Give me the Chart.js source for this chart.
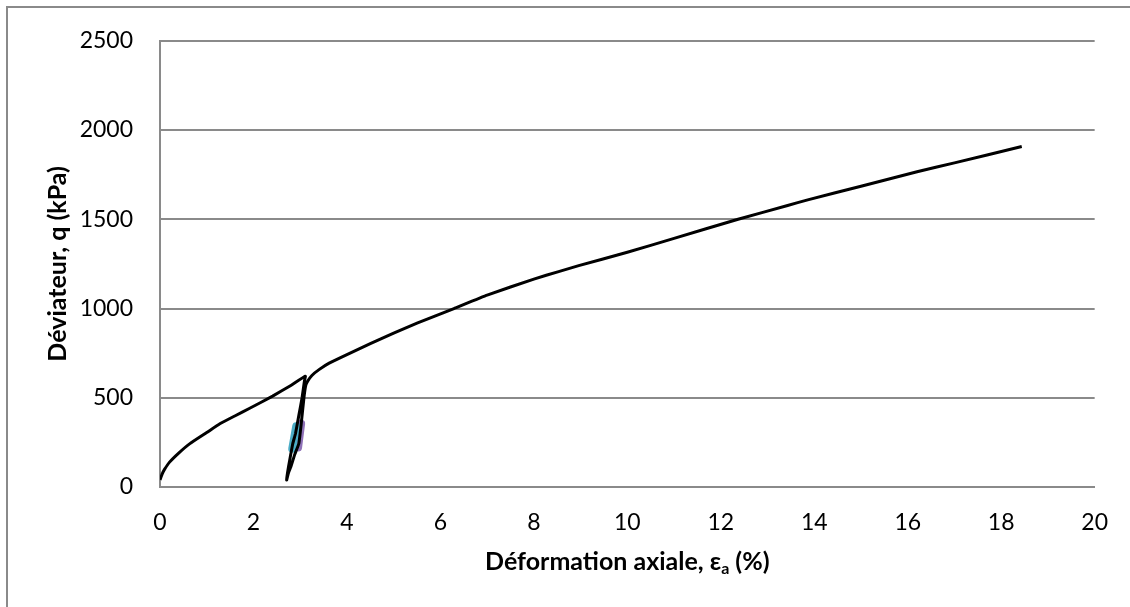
<!DOCTYPE html>
<html>
<head>
<meta charset="utf-8">
<script src="https://cdn.jsdelivr.net/npm/chart.js@4"></script>
<style>
  html, body { margin: 0; padding: 0; background: #fff; }
  #wrap { width: 1130px; height: 607px; position: relative; }
</style>
</head>
<body>
<div id="wrap"><canvas id="triax" width="1130" height="607"></canvas></div>
<script>
// Axial strain (%) and deviator stress (kPa): loading, unload/reload loop, then loading to the end
const strain = [
  0, 0.05, 0.1, 0.2, 0.4, 0.64, 1.0, 1.28, 1.6, 1.92, 2.41, 2.8, 3.11,
  3.09, 3.04, 2.97, 2.9, 2.84, 2.75, 2.71,
  2.75, 2.8, 2.88, 2.97, 3.02, 3.08, 3.12, 3.16, 3.25, 3.41, 3.62,
  4.0, 4.5, 5.0, 5.5, 6.29, 7.0, 8.0, 8.53, 8.96, 10.0, 11.0, 12.37, 13.43, 13.86,
  15.0, 16.2, 17.0, 18.44
];
const deviator = [
  40, 75, 100, 138, 190, 243, 305, 354, 398, 441, 509, 569, 621,
  593, 500, 400, 300, 242, 113, 39,
  80, 113, 180, 242, 350, 500, 570, 593, 625, 659, 694,
  742, 803, 862, 918, 1000, 1075, 1165, 1207, 1240, 1315, 1393, 1500, 1577, 1609,
  1685, 1766, 1816, 1908
];

// two short highlighted stretches on the loop
const cyanStrain = [2.83, 2.915];
const cyanQ = [215, 340];
const purpleStrain = [2.955, 3.02];
const purpleQ = [222, 355];

const xTicks = [0, 2, 4, 6, 8, 10, 12, 14, 16, 18, 20];
const yTicks = [0, 500, 1000, 1500, 2000, 2500];

const toPoints = (xs, ys) => xs.map((x, i) => ({ x, y: ys[i] }));

const FONT = 'Lato, "Open Sans", "Noto Sans", sans-serif';

const frameAndTitles = {
  id: 'frameAndTitles',
  afterDraw(chart) {
    const c = chart.ctx;
    c.save();
    // outer chart border (top and left only visible)
    c.strokeStyle = '#8a8a8a';
    c.lineWidth = 2;
    c.beginPath();
    c.moveTo(1130, 7);
    c.lineTo(7, 7);
    c.lineTo(7, 607);
    c.stroke();

    c.fillStyle = '#000';
    c.textBaseline = 'middle';

    // x title with subscript a
    const big = 'bold 25px ' + FONT;
    const small = 'bold 16px ' + FONT;
    const p1 = 'Déformation axiale, ε', p2 = 'a', p3 = ' (%)';
    c.font = big;
    const w1 = c.measureText(p1).width, w3 = c.measureText(p3).width;
    c.font = small;
    const w2 = c.measureText(p2).width;
    const area = chart.chartArea;
    let x = (area.left + area.right) / 2 - (w1 + w2 + w3) / 2;
    const y = 562;
    c.textAlign = 'left';
    c.font = big;
    c.fillText(p1, x, y);
    x += w1;
    c.font = small;
    c.fillText(p2, x, y + 7);
    x += w2;
    c.font = big;
    c.fillText(p3, x, y);

    // y title
    c.translate(58, (area.top + area.bottom) / 2);
    c.rotate(-Math.PI / 2);
    c.textAlign = 'center';
    c.font = big;
    c.fillText('Déviateur, q (kPa)', 0, 0);
    c.restore();
  }
};

new Chart(document.getElementById('triax'), {
  type: 'scatter',
  data: {
    datasets: [
      {
        label: 'q',
        data: toPoints(strain, deviator),
        showLine: true,
        borderColor: '#000',
        borderWidth: 3,
        pointRadius: 0,
        tension: 0.1,
        order: 1
      },
      {
        label: 'sel1',
        data: toPoints(cyanStrain, cyanQ),
        showLine: true,
        borderColor: '#4bacc6',
        borderWidth: 8,
        borderCapStyle: 'round',
        pointRadius: 0,
        order: 2
      },
      {
        label: 'sel2',
        data: toPoints(purpleStrain, purpleQ),
        showLine: true,
        borderColor: '#8f72b8',
        borderWidth: 8,
        borderCapStyle: 'round',
        pointRadius: 0,
        order: 3
      }
    ]
  },
  options: {
    responsive: false,
    animation: false,
    layout: { padding: { left: 0, top: 36, right: 32, bottom: 0 } },
    plugins: {
      legend: { display: false },
      tooltip: { enabled: false }
    },
    scales: {
      x: {
        type: 'linear',
        min: 0,
        max: 20,
        afterBuildTicks: axis => { axis.ticks = xTicks.map(v => ({ value: v })); },
        afterFit: axis => { axis.height = 120; },
        grid: { display: false, drawTicks: false },
        border: { display: true, color: '#8a8a8a', width: 2 },
        ticks: {
          color: '#000', font: { family: FONT, size: 23 }, padding: 22, maxRotation: 0,
          callback: v => String(v)
        }
      },
      y: {
        type: 'linear',
        min: 0,
        max: 2500,
        afterBuildTicks: axis => { axis.ticks = yTicks.map(v => ({ value: v })); },
        afterFit: axis => { axis.width = 160; },
        grid: { color: '#8a8a8a', lineWidth: 2, drawTicks: false },
        border: { display: true, color: '#8a8a8a', width: 2 },
        ticks: {
          color: '#000', font: { family: FONT, size: 23 }, padding: 27,
          callback: v => String(v)
        }
      }
    }
  },
  plugins: [frameAndTitles]
});
</script>
</body>
</html>
